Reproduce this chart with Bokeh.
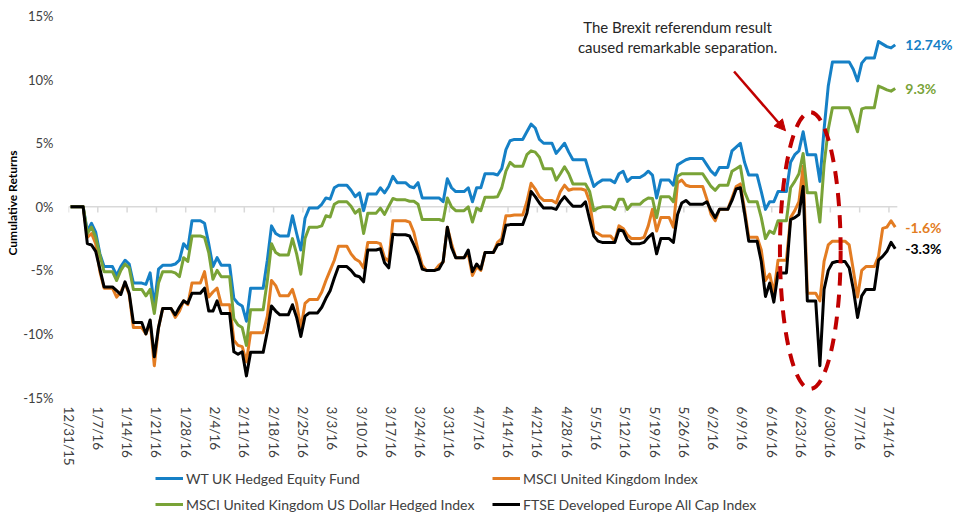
import pandas as pd
from bokeh.plotting import figure
from bokeh.layouts import column
from bokeh.models import (Range1d, FixedTicker, PrintfTickFormatter, Legend, LegendItem,
                          Label, Arrow, NormalHead, ColumnDataSource)
from bokeh.embed import file_html
from bokeh.resources import INLINE

# ---------------- data ----------------
LEAD_DATES = ["2015-12-31", "2016-01-01"]
FIRST_WEEKDAY = "2016-01-04"
LAST_WEEKDAY = "2016-07-15"

TICK_LABELS = ["12/31/15", "1/7/16", "1/14/16", "1/21/16", "1/28/16", "2/4/16", "2/11/16",
               "2/18/16", "2/25/16", "3/3/16", "3/10/16", "3/17/16", "3/24/16", "3/31/16",
               "4/7/16", "4/14/16", "4/21/16", "4/28/16", "5/5/16", "5/12/16", "5/19/16",
               "5/26/16", "6/2/16", "6/9/16", "6/16/16", "6/23/16", "6/30/16", "7/7/16",
               "7/14/16"]

SERIES_NAMES = ["WT UK Hedged Equity Fund", "MSCI United Kingdom Index",
                "MSCI United Kingdom US Dollar Hedged Index", "FTSE Developed Europe All Cap Index"]
COLORS = ["#1580C6", "#E37C22", "#79A337", "#000000"]

WT_UK_HEDGED = [0, 0,
    -1.9, -1.3, -2.0, -3.7, -4.7,
    -5.4, -4.7, -4.2, -4.5, -6.0,
    -6.1, -5.2, -7.8, -4.9, -4.6,
    -4.5, -4.2, -2.9, -3.3, -1.1,
    -1.3, -2.9, -4.7, -4.0, -4.6,
    -7.2, -7.6, -7.8, -9.0, -6.4,
    -6.4, -4.2, -1.5, -2.1, -2.3,
    -0.7, -2.1, -3.4, -0.9, -0.1,
    0.2, 0.7, 0.6, 1.5, 1.7,
    1.3, 0.8, 1.1, -0.3, 1.0,
    1.5, 1.1, 1.6, 2.4, 1.9,
    1.6, 1.5, 1.9, 0.7, 0.7,
    0.7, 0.4, 2.2, 1.5, 1.2,
    1.5, 0.4, 1.5, 1.5, 2.6,
    2.5, 3.0, 4.5, 5.2, 5.3,
    5.9, 6.5, 6.2, 5.3, 5.0,
    4.2, 4.6, 5.0, 4.3, 3.7,
    3.7, 2.6, 1.6, 1.9, 2.1,
    1.9, 2.6, 2.8, 2.0, 2.3,
    2.5, 2.8, 2.5, 0.7, 2.1,
    1.7, 3.3, 3.5, 3.7, 3.8,
    3.8, 3.3, 2.8, 2.5, 3.1,
    4.4, 4.7, 5.0, 3.5, 2.5,
    1.2, -0.2, 0.4, 0.4, 1.2,
    3.5, 4.1, 4.4, 5.9, 4.1,
    2.0, 6.1, 9.5, 11.4, 11.4,
    11.4, 10.8, 9.9, 11.3, 11.7,
    13.0, 12.8, 12.6, 12.5, 12.74]

MSCI_UK = [0, 0,
    -2.4, -2.1, -2.9, -5.1, -6.4,
    -7.1, -6.7, -6.0, -6.9, -9.5,
    -10.0, -9.0, -12.5, -9.5, -8.0,
    -8.7, -8.2, -7.4, -7.7, -6.0,
    -5.1, -7.1, -6.7, -6.4, -7.7,
    -10.5, -10.9, -11.0, -12.2, -9.9,
    -9.9, -8.6, -5.8, -6.2, -7.0,
    -6.5, -7.6, -9.6, -7.6, -7.3,
    -6.7, -5.8, -5.0, -4.2, -3.1,
    -3.7, -4.1, -4.3, -4.8, -2.8,
    -2.9, -4.0, -4.3, -1.1, -1.1,
    -1.2, -2.0, -3.4, -4.6, -5.0,
    -4.6, -4.35, -1.6, -2.9, -4.0,
    -3.7, -5.4, -4.7, -5.0, -3.6,
    -2.8, -2.5, -0.7, -0.7, -0.65,
    0.4, 1.85, 1.4, 0.8, 0.5,
    0.3, 1.2, 1.7, 1.3, 1.4,
    1.3, 0.4, -1.9, -2.1, -2.3,
    -2.7, -1.5, -1.7, -2.2, -2.5,
    -2.4, -1.5, -0.2, -1.9, -0.85,
    -1.6, 1.9, 2.1, 1.7, 1.6,
    1.6, 0.6, -0.6, -1.1, -0.2,
    0.7, 1.6, 1.8, -0.2, -2.4,
    -3.4, -5.8, -5.3, -6.8, -4.2,
    -0.85, -0.3, 0.4, 3.2, -6.8,
    -7.4, -4.3, -3.0, -2.7, -2.7,
    -3.0, -5.0, -7.1, -5.0, -4.7,
    -3.9, -1.7, -1.6, -1.1, -1.6]

MSCI_UK_USD_HEDGED = [0, 0,
    -2.1, -1.6, -2.4, -3.8, -5.1,
    -5.8, -5.0, -4.5, -4.8, -6.5,
    -7.0, -6.5, -8.4, -6.0, -5.1,
    -5.2, -5.5, -4.0, -4.3, -2.3,
    -2.4, -3.6, -5.7, -5.0, -5.5,
    -8.8, -9.3, -9.5, -10.9, -8.1,
    -8.1, -5.8, -2.9, -3.6, -3.8,
    -2.5, -3.7, -5.3, -2.5, -1.6,
    -1.5, -0.7, -0.8, 0.2, 0.4,
    0.05, -0.5, -0.2, -2.1, -0.5,
    -0.1, -0.6, 0.05, 0.65, 0.55,
    0.44, 0.44, 0.2, -1.0, -1.0,
    -1.0, -1.1, 0.7, 0.0, -0.3,
    0.0, -1.2, -0.1, -0.3, 0.75,
    0.8, 1.5, 2.8, 3.5, 3.2,
    4.1, 4.4, 4.3, 3.9, 3.0,
    2.1, 2.6, 3.15, 2.6, 1.8,
    1.8, 1.2, -0.3, -0.1, 0.0,
    -0.2, 0.6, 0.6, -0.2, 0.2,
    0.5, 0.7, 0.65, -0.85, 0.8,
    0.4, 2.4, 2.6, 2.6, 2.6,
    2.6, 2.1, 1.6, 1.3, 1.7,
    2.8, 3.0, 3.2, 1.2, 0.4,
    -0.85, -2.5, -1.9, -2.1, -1.1,
    1.5, 2.0, 2.6, 4.2, 1.1,
    -1.2, 3.3, 6.1, 7.8, 7.8,
    7.8, 6.9, 5.9, 7.7, 7.8,
    9.5, 9.35, 9.2, 9.1, 9.3]

FTSE_EUROPE = [0, 0,
    -2.9, -3.0, -3.5, -4.9, -6.3,
    -6.6, -6.9, -5.9, -6.8, -9.1,
    -10.0, -8.9, -11.8, -9.5, -8.0,
    -8.5, -7.9, -7.4, -7.6, -6.8,
    -6.4, -8.2, -8.2, -7.4, -8.4,
    -11.4, -11.6, -11.4, -13.3, -11.45,
    -11.45, -9.8, -7.8, -8.2, -8.5,
    -7.7, -8.7, -10.2, -8.6, -8.35,
    -7.9, -7.2, -6.6, -5.6, -4.7,
    -5.0, -5.4, -5.5, -5.9, -3.4,
    -3.3, -4.4, -4.8, -2.15, -2.2,
    -2.3, -3.0, -3.8, -4.9, -5.0,
    -4.9, -4.3, -1.6, -3.2, -4.0,
    -3.4, -5.1, -4.5, -4.9, -3.6,
    -3.0, -2.9, -1.45, -1.4, -1.4,
    -0.5, 1.2, 0.8, 0.3, -0.1,
    -0.2, 0.4, 0.8, 0.4, 0.05,
    0.4, -1.0, -2.3, -2.7, -2.8,
    -2.8, -1.8, -1.9, -2.6, -2.9,
    -2.8, -2.4, -2.1, -3.7, -2.5,
    -2.8, -0.6, 0.3, 0.5, 0.2,
    0.2, 0.4, -0.3, -0.85, -0.2,
    0.5, 1.4, 1.5, -0.5, -2.7,
    -4.3, -7.05, -6.0, -7.5, -5.2,
    -1.0, -0.85, -0.6, 1.6, -7.4,
    -12.5, -6.5, -5.0, -4.4, -4.3,
    -4.8, -6.5, -8.7, -7.0, -6.5,
    -4.2, -3.9, -3.5, -2.8, -3.3]

ALL_SERIES = [WT_UK_HEDGED, MSCI_UK, MSCI_UK_USD_HEDGED, FTSE_EUROPE]

ANNOTATION_LINES = ["The Brexit referendum result", "caused remarkable separation."]

# ---------------- helpers ----------------
DAY_MS = 86400000.0


def ms(ts):
    return pd.Timestamp(ts).value / 1e6


trading_dates = pd.DatetimeIndex(pd.to_datetime(LEAD_DATES).tolist() +
                                 pd.bdate_range(FIRST_WEEKDAY, LAST_WEEKDAY).tolist())
calendar = pd.date_range(trading_dates[0], trading_dates[-1], freq="D")
# Excel date axis "between tick marks": each day's point sits mid-day
x_days = [ms(d) + DAY_MS / 2 for d in calendar]

tick_dates = pd.to_datetime(TICK_LABELS, format="%m/%d/%y")
tick_ms = [int(ms(d)) for d in tick_dates]

x0 = ms(trading_dates[0])

FONT = "Lato"
W = 955
MAIN_H, LEG_H = 468, 45
LEFT, TOP, FRAME_H = 68, 8, 394
FRAME_W = W - LEFT
PX_PER_DAY = 4.186

p = figure(width=W, height=MAIN_H, x_axis_type="datetime",
           output_backend="svg", toolbar_location=None,
           x_range=Range1d(x0, x0 + FRAME_W / PX_PER_DAY * DAY_MS), y_range=Range1d(-15, 15.6),
           min_border_left=LEFT, min_border_right=0, min_border_top=TOP,
           min_border_bottom=MAIN_H - TOP - FRAME_H)
p.outline_line_color = None
p.xgrid.visible = False
p.ygrid.visible = False
p.background_fill_color = "white"

# y axis
p.yaxis.ticker = FixedTicker(ticks=[-15, -10, -5, 0, 5, 10, 15])
p.yaxis.formatter = PrintfTickFormatter(format="%d%%")
p.yaxis.axis_line_color = None
p.yaxis.major_tick_line_color = None
p.yaxis.minor_tick_line_color = None
p.yaxis.major_tick_out = 0
p.yaxis.major_tick_in = 0
p.yaxis.minor_tick_out = 0
p.yaxis.major_label_text_font = FONT
p.yaxis.major_label_text_font_size = "13px"
p.yaxis.major_label_text_color = "#404040"
p.yaxis.major_label_standoff = 15
p.yaxis.axis_label = "Cumulative Returns"
p.yaxis.axis_label_text_font = FONT
p.yaxis.axis_label_text_font_style = "bold"
p.yaxis.axis_label_text_font_size = "12px"
p.yaxis.axis_label_text_color = "#000000"
p.yaxis.axis_label_standoff = 0

# x axis
p.xaxis.ticker = FixedTicker(ticks=tick_ms)
p.xaxis.major_label_overrides = {t: lab for t, lab in zip(tick_ms, TICK_LABELS)}
p.xaxis.major_label_orientation = "vertical"
p.xaxis.axis_line_color = None
p.xaxis.major_tick_line_color = None
p.xaxis.minor_tick_line_color = None
p.xaxis.major_tick_out = 0
p.xaxis.major_tick_in = 0
p.xaxis.minor_tick_out = 0
p.xaxis.major_label_text_font = FONT
p.xaxis.major_label_text_font_size = "13.5px"
p.xaxis.major_label_text_color = "#404040"
p.xaxis.major_label_standoff = 9

# zero line with small tick marks
zero_end = ms(trading_dates[-1]) + DAY_MS
p.line([x0, zero_end], [0, 0], line_color="#D9D9D9", line_width=1.5)
p.segment(x0=tick_ms, y0=[0] * len(tick_ms), x1=tick_ms, y1=[-0.45] * len(tick_ms),
          line_color="#D9D9D9", line_width=1.5)

for name, vals, col in zip(SERIES_NAMES, ALL_SERIES, COLORS):
    s = pd.Series(vals, index=trading_dates).reindex(calendar).ffill()
    src = ColumnDataSource(dict(x=x_days, y=s.values.tolist()))
    p.line("x", "y", source=src, line_color=col, line_width=3, line_join="round")

# end labels
for vals, col in zip(ALL_SERIES, COLORS):
    last = vals[-1]
    p.add_layout(Label(x=x_days[-1] + 2.4 * DAY_MS, y=last, text=f"{last}%",
                       text_font=FONT, text_font_style="bold", text_font_size="14px",
                       text_color=col, text_baseline="middle", text_align="left"))

# annotation
ANNOT_X = ms("2016-05-24 12:00")
for txt, yy in zip(ANNOTATION_LINES, [14.14, 12.59]):
    p.add_layout(Label(x=ANNOT_X, y=yy, text=txt, text_font=FONT, text_font_size="15px",
                       text_color="#262626", text_align="center", text_baseline="middle"))

RED = "#C00000"
p.add_layout(Arrow(end=NormalHead(size=11, fill_color=RED, line_color=RED),
                   x_start=ms("2016-06-07 00:00"), y_start=10.64,
                   x_end=ms("2016-06-19 07:00"), y_end=5.98,
                   line_color=RED, line_width=2.5))
p.ellipse(x=[ms("2016-06-25 05:00")], y=[-3.44], width=[14.5 * DAY_MS], height=[21.76],
          fill_alpha=0, line_color=RED, line_width=4, line_dash="13 9")

# ---------------- legend strip ----------------
lg_fig = figure(width=W, height=LEG_H, output_backend="svg", toolbar_location=None,
                x_range=Range1d(0, 1), y_range=Range1d(0, 1),
                x_axis_location=None, y_axis_location=None,
                min_border_left=0, min_border_right=0, min_border_top=0, min_border_bottom=0)
lg_fig.outline_line_color = None
lg_fig.xgrid.visible = False
lg_fig.ygrid.visible = False
# swatch renderers: styled like the series, placed outside the visible range
swatches = [lg_fig.line(x=[2, 3], y=[2, 3], line_color=c, line_width=3) for c in COLORS]

ROW_H = 18
LEG_X = 155 - LEFT  # column layout aligns this strip's frame with the chart frame
for row, bottom in (([0, 1], LEG_H - ROW_H - 1), ([2, 3], 0)):
    lg = Legend(items=[LegendItem(label=SERIES_NAMES[i], renderers=[swatches[i]]) for i in row],
                orientation="horizontal", location=(LEG_X, bottom))
    lg.label_text_font = FONT
    lg.label_text_font_size = "14px"
    lg.label_text_color = "#404040"
    lg.glyph_width = 28
    lg.glyph_height = 14
    lg.label_standoff = 3
    lg.label_width = 292
    lg.label_height = ROW_H
    lg.spacing = 14
    lg.padding = 0
    lg.margin = 0
    lg.border_line_alpha = 0
    lg.background_fill_alpha = 0
    lg_fig.add_layout(lg, "center")

layout = column(p, lg_fig, spacing=0)
open("out.html", "w").write(file_html(layout, INLINE))
